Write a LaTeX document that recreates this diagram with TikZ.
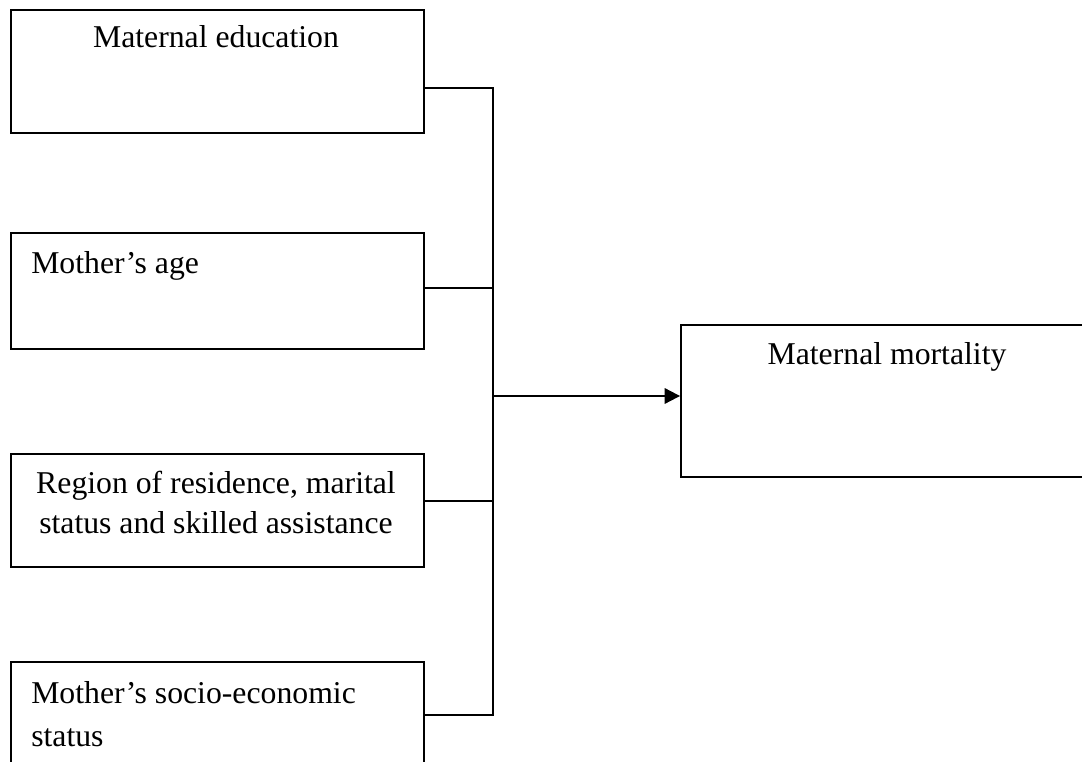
\documentclass[tikz,border=0pt]{standalone}
\usepackage{fontspec}
\setmainfont{Liberation Serif}
\usetikzlibrary{arrows.meta,positioning}
\tikzset{
    factor/.style={draw,line width=1.4pt,minimum width=309.75pt,inner sep=0pt},
    caption/.style={inner sep=0pt,font=\fontsize{23.8pt}{30pt}\selectfont},
    link/.style={line width=1.4pt},
    arrowlink/.style={line width=1.5pt,-{Triangle[length=11.5pt,width=11.5pt]}}
}

\begin{document}
\begin{tikzpicture}[x=0.75pt,y=-0.75pt]
\clip (0,0) rectangle (1082,762);
\node[factor,minimum height=92.25pt] (edu) at (217.5,71.5) {};
\node[factor,minimum height=87pt] (age) at (217.5,291) {};
\node[factor,minimum height=84.75pt] (reg) at (217.5,510.5) {};
\node[factor,minimum height=103.5pt] (ses) at (217.5,731) {};
\node[factor,minimum width=314.25pt,minimum height=114pt] (mort) at (890.5,401) {};
\node[caption,anchor=base] (edutxt) at (216,48) {Maternal education};
\node[caption,anchor=base west] (agetxt) at (31,274) {Mother’s age};
\node[caption,anchor=base,align=center] (regtxt) at (216,534) {Region of residence, marital\\status and skilled assistance};
\node[caption,anchor=base west,align=left,font=\fontsize{23.8pt}{32pt}\selectfont] (sestxt) at (31,746) {Mother’s socio-economic\\status};
\node[caption,anchor=base] (morttxt) at (887,365) {Maternal mortality};
% trunk
\coordinate (t1) at (493,88);
\coordinate (t2) at (493,288);
\coordinate (t3) at (493,501);
\coordinate (t4) at (493,715);
\coordinate (hub) at (493,396);
\draw[link] (t1 -| edu.east) -- (t1) -- (t4) -- (t4 -| ses.east);
\draw[link] (t2 -| age.east) -- (t2);
\draw[link] (t3 -| reg.east) -- (t3);
\draw[arrowlink] (hub) -- (hub -| mort.west);
\end{tikzpicture}
\end{document}
